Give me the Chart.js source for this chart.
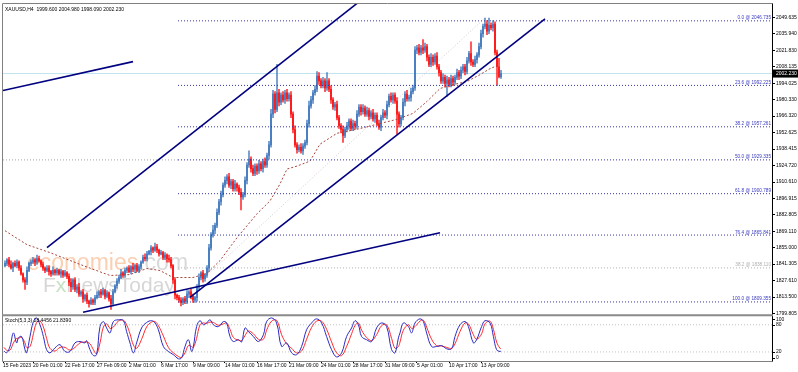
<!DOCTYPE html>
<html>
<head>
<meta charset="utf-8">
<script src="https://cdn.jsdelivr.net/npm/chart.js@4.4.1/dist/chart.umd.min.js"></script>
<style>
html, body { margin: 0; padding: 0; background: #fff; }
#wrap { width: 798px; height: 372px; }
</style>
</head>
<body>
<div id="wrap"><canvas id="xau" width="798" height="372"></canvas></div>
<script>
// XAUUSD H4 closes, one per bar (bar 0 = 15 Feb 2023)
const closes = [
	1842,1845,1841,1838,1842,1840,1843,1838,1833,1828,
	1826,1836,1842,1843,1845,1843,1846,1844,1841,1838,
	1836,1838,1835,1833,1836,1834,1836,1833,1835,1832,
	1834,1831,1826,1822,1828,1820,1822,1816,1818,1812,
	1815,1810,1808,1811,1809,1813,1815,1818,1816,1819,
	1814,1817,1812,1808,1818,1823,1827,1830,1834,1832,
	1836,1838,1835,1839,1837,1840,1836,1839,1843,1847,
	1846,1850,1852,1855,1853,1856,1853,1850,1851,1847,
	1849,1846,1845,1840,1828,1815,1813,1811,1809,1812,
	1810,1816,1818,1814,1811,1813,1822,1830,1834,1829,
	1832,1838,1855,1866,1870,1874,1885,1894,1900,1908,
	1912,1915,1908,1911,1905,1909,1906,1902,1898,1900,
	1912,1925,1930,1922,1918,1924,1920,1926,1922,1928,
	1925,1933,1942,1968,1985,1972,1986,1978,1984,1980,
	1986,1981,1984,1968,1955,1942,1938,1940,1937,1941,
	1944,1960,1975,1980,1986,1989,2000,1996,1992,1996,
	1990,1996,1989,1980,1974,1976,1965,1958,1955,1950,
	1955,1958,1962,1956,1960,1958,1968,1974,1970,1973,
	1968,1971,1966,1969,1964,1967,1960,1957,1965,1969,
	1967,1976,1983,1980,1984,1979,1968,1960,1965,1978,
	1985,1981,1982,1987,1990,2022,2024,2020,2024,2022,
	2025,2016,2010,2016,2012,2017,2008,2003,1996,1999,
	1994,1997,1993,1998,1995,1999,2003,2000,2005,2008,
	2004,2013,2019,2012,2010,2014,2018,2025,2036,2042,
	2044,2038,2043,2041,2044,2020,2008,1999.6,2002.23
];
const firstOpen = 1840;

// wick lengths above / below the body, in price units
const upWick = [
	2,1,2,3,1,2,2,1,2,1, 2,3,1,2,2,1,3,2,1,2, 1,2,2,1,3,1,2,1,2,1,
	2,1,2,3,1,2,2,3,1,2, 1,2,1,2,1,2,3,1,2,2, 1,2,1,3,2,1,2,2,3,1,
	2,1,2,1,3,1,2,2,1,2, 3,2,1,2,1,3,2,1,2,1, 2,1,3,2,1,2,1,2,2,1,
	2,3,1,2,2,1,2,3,1,2, 1,2,3,2,4,2,3,2,3,2, 3,2,3,2,2,3,1,2,3,2,
	3,2,7,2,3,2,2,3,2,2, 3,2,3,4,3,2,24,3,2,3, 2,3,2,3,2,3,2,2,3,2,
	2,3,4,3,2,3,4,3,2,3, 2,7,2,3,2,2,3,2,2,3, 2,3,2,2,3,2,3,2,2,3,
	2,3,2,2,3,2,2,3,2,3, 2,3,2,3,2,2,3,2,2,3, 2,3,2,3,2,3,2,3,2,7,
	3,2,2,3,2,2,3,2,2,3, 2,3,2,3,2,2,3,2,3,2, 2,3,2,10,2,3,2,3,3,2,
	5,3,6,2,3,2,2,7,2.75
];
const downWick = [
	1,2,2,1,3,1,2,2,1,2, 6,2,1,2,1,3,2,1,2,2, 2,1,3,2,1,2,2,1,3,2,
	1,2,3,4,2,2,3,2,2,3, 2,2,3,1,2,2,1,2,3,1, 2,1,2,5,2,1,2,2,1,2,
	2,2,1,2,2,3,1,2,2,1, 2,2,1,3,2,1,2,2,1,2, 2,3,2,2,3,3,2,2,3,2,
	2,2,3,2,2,2,3,2,2,3, 2,2,3,2,2,3,2,2,3,2, 2,3,2,3,2,2,3,2,11,2,
	2,3,2,3,2,2,3,2,2,3, 2,2,3,2,3,3,2,3,2,2, 3,2,2,3,3,2,3,2,2,3,
	2,2,3,2,3,2,2,3,2,2, 3,2,2,3,2,3,2,2,3,6, 2,2,3,2,2,3,2,2,3,2,
	2,2,3,2,2,3,2,2,3,2, 2,3,2,2,3,2,17,3,2,2, 3,2,2,3,2,2,3,2,2,3,
	2,3,2,2,3,2,2,3,2,2, 3,11,2,2,3,2,2,3,2,2, 3,2,2,3,2,2,3,2,2,3,
	2,3,2,2,3,2,16,1,1.51
];

// moving average, [bar, price]
const maPoints = [
	[0,1869.5],[11,1857.7],[22.5,1851.0],[39,1840.1],[52.5,1831.7],[62.5,1832.5],
	[71,1837.6],[77.5,1835.9],[84,1830.0],[94,1830.0],[101,1833.4],[107.5,1844.3],
	[116,1863.6],[126,1883.8],[132.5,1894.7],[137.5,1909.0],[141,1921.6],[146,1924.1],
	[152.5,1928.3],[157.5,1942.6],[166,1951.8],[176,1955.2],[186,1959.4],[196,1963.6],
	[204,1968.6],[211,1978.7],[217.5,1989.6],[224,1992.9],[231,1995.5],[237.5,2001.3],
	[242.5,2006.4],[247.5,2009.7]
];

// drawn trend lines, [bar, price] end points
const shortLine = [[-1,1987.9],[64,2012.3]];
const upperChannel = [[21,1855.2],[180,2066.8]];
const lowerChannel = [[92.5,1813.2],[270,2048.4]];
const baseLine = [[39,1800.6],[217.5,1867.8]];
const faintTrend = [[94,1820.8],[240,2049.2]];
const leftLevel = [[-1,1929.3],[86.5,1929.3]];

// fibonacci retracement
const fibLevels = [0.0, 23.6, 38.2, 50.0, 61.8, 76.4, 100.0];
const fibPrices = [2046.735, 1992.225, 1957.261, 1929.335, 1900.789, 1865.841, 1809.355];
const oldFibLevel = 38.2;
const oldFibPrice = 1838.110;
const fibStartBar = 86.5;

const bidPrice = 2002.23;
const title = 'XAUUSD,H4  1999.600 2004.980 1998.090 2002.230';

// stochastic (5,3,3), [bar, value]
const stochMain = [
	[-0.5,22],[0.8,18],[2.5,32],[4.2,62],[5.8,40],[6.7,51],[8.3,54],[10,25],[10.8,18],[12.5,54],
	[14.2,87],[15.8,95],[17.5,80],[19.2,54],[20.8,25],[22.5,18],[25,29],[27.5,36],[30,21],[32.5,21],
	[35,40],[37.5,43],[40,40],[40.8,45],[42.5,25],[44.2,12],[45.8,14],[47.5,76],[49.2,87],[50.8,73],
	[52.5,62],[54.2,87],[56.7,91],[59.2,89],[60.8,65],[62.5,40],[64.2,18],[65.8,40],[68.3,73],[70.8,85],
	[73.3,89],[75,84],[76.7,69],[79.2,32],[81.7,21],[84.2,14],[86.7,5],[88.3,7],[90,32],[91.7,47],
	[93.3,21],[94.2,32],[95.8,76],[97.5,89],[99.2,80],[100.8,84],[102.5,91],[104.2,80],[106.7,76],[109.2,87],
	[110.8,84],[112.5,54],[114.2,43],[116.7,47],[118.3,42],[120,73],[121.7,65],[124.2,54],[126.7,43],[129.2,58],
	[130.8,87],[133.3,95],[135.8,84],[138.3,32],[140.8,40],[143.3,18],[145.8,14],[148.3,32],[150.8,69],[153.3,84],
	[155.8,93],[158.3,84],[160.8,54],[163.3,25],[165.8,9],[168.3,18],[170.8,54],[173.3,73],[175,89],[176.7,80],
	[178.3,54],[180.8,47],[183.3,43],[185.8,73],[188.3,84],[190.8,76],[193.3,25],[195,18],[196.7,51],[197.5,62],
	[199.2,84],[201.7,76],[203.3,62],[205,84],[207.5,93],[209.2,87],[210.8,62],[213.3,32],[215.8,32],[218.3,34],
	[220.8,27],[223.3,27],[225,54],[227.5,80],[230,87],[231.7,76],[234.2,40],[235.8,47],[238.3,76],[240,89],
	[242.5,84],[244.2,54],[245.8,25],[247.5,21],[248,22]
];
const stochSignal = [
	[-0.5,30],[0.8,24],[2.5,24],[4.2,40],[5.8,50],[6.7,50],[8.3,52],[10,40],[10.8,30],[12.5,32],
	[14.2,60],[15.8,85],[17.5,88],[19.2,75],[20.8,50],[22.5,28],[25,22],[27.5,30],[30,30],[32.5,24],
	[35,30],[37.5,40],[40,42],[40.8,42],[42.5,38],[44.2,25],[45.8,16],[47.5,40],[49.2,75],[50.8,82],
	[52.5,72],[54.2,75],[56.7,88],[59.2,90],[60.8,80],[62.5,60],[64.2,35],[65.8,28],[68.3,48],[70.8,75],
	[73.3,86],[75,87],[76.7,78],[79.2,55],[81.7,30],[84.2,18],[86.7,10],[88.3,8],[90,18],[91.7,34],
	[93.3,32],[94.2,30],[95.8,50],[97.5,80],[99.2,84],[100.8,83],[102.5,86],[104.2,85],[106.7,79],[109.2,82],
	[110.8,84],[112.5,70],[114.2,52],[116.7,46],[118.3,45],[120,56],[121.7,66],[124.2,60],[126.7,48],[129.2,48],
	[130.8,68],[133.3,88],[135.8,90],[138.3,58],[140.8,38],[143.3,28],[145.8,18],[148.3,22],[150.8,48],[153.3,74],
	[155.8,88],[158.3,88],[160.8,70],[163.3,42],[165.8,18],[168.3,12],[170.8,32],[173.3,60],[175,78],[176.7,84],
	[178.3,68],[180.8,52],[183.3,45],[185.8,58],[188.3,78],[190.8,80],[193.3,50],[195,28],[196.7,32],[197.5,42],
	[199.2,68],[201.7,80],[203.3,72],[205,76],[207.5,88],[209.2,90],[210.8,75],[213.3,48],[215.8,34],[218.3,33],
	[220.8,30],[223.3,28],[225,38],[227.5,65],[230,84],[231.7,82],[234.2,58],[235.8,48],[238.3,60],[240,82],
	[242.5,88],[244.2,70],[245.8,42],[247.5,28],[248,28]
];
const stochLevels = [80, 20];
const stochTicks = [100, 80, 20, 0];
const stochTitle = 'Stoch(5,3,3) 28.4456 21.8390';

// axis labels
const priceTicks = [2049.635, 2035.940, 2021.830, 2008.135, 1994.025, 1980.330, 1966.320,
	1952.625, 1938.415, 1924.720, 1910.610, 1896.915, 1882.805, 1869.110, 1855.000,
	1841.305, 1827.610, 1813.500, 1799.805];
const timeTickBars = [-1, 14, 30, 46, 62, 78, 94, 110, 126, 142, 158, 174, 190, 206, 222, 238];
const timeLabels = ['15 Feb 2023', '20 Feb 01:00', '22 Feb 17:00', '27 Feb 09:00', '2 Mar 01:00',
	'6 Mar 17:00', '9 Mar 09:00', '14 Mar 01:00', '16 Mar 17:00', '21 Mar 09:00', '24 Mar 01:00',
	'28 Mar 17:00', '31 Mar 09:00', '5 Apr 01:00', '10 Apr 17:00', '13 Apr 09:00'];

const FONT = '"Liberation Sans", Arial, sans-serif';
const X_MIN = -1, X_MAX = 383.5;

const opens = closes.map((c, i) => i === 0 ? firstOpen : closes[i - 1]);
const candleColors = closes.map((c, i) => c >= opens[i] ? '#4a7fc1' : '#ff1c1c');

function seg(points, color, width, dash, order, axis) {
	return {
		type: 'line',
		data: points.map(p => ({x: p[0], y: p[1]})),
		borderColor: color,
		borderWidth: width,
		borderDash: dash || [],
		pointRadius: 0,
		fill: false,
		tension: 0,
		yAxisID: axis || 'y',
		order: order
	};
}

const datasets = [
	// candles: wick then body
	{
		type: 'bar',
		data: closes.map((c, i) => ({x: i, y: [Math.min(opens[i], c) - downWick[i], Math.max(opens[i], c) + upWick[i]]})),
		backgroundColor: candleColors,
		barThickness: 0.8,
		grouped: false,
		yAxisID: 'y',
		order: 6
	},
	{
		type: 'bar',
		data: closes.map((c, i) => ({x: i, y: [opens[i], c]})),
		backgroundColor: candleColors,
		barThickness: 1.3,
		minBarLength: 1,
		grouped: false,
		yAxisID: 'y',
		order: 5
	},
	seg([[X_MIN, bidPrice], [X_MAX, bidPrice]], '#bfe3ee', 1, [], 8),
	seg(leftLevel, '#a8a8a8', 1, [1, 2], 7),
	seg([[fibStartBar, oldFibPrice], [X_MAX, oldFibPrice]], '#b4b4b4', 1, [1, 2], 7),
	seg(faintTrend, 'rgba(205,185,195,0.8)', 1, [1, 2], 7),
	seg(maPoints, '#a8443c', 1, [2, 2], 4),
	seg(shortLine, '#000080', 1.6, [], 2),
	seg(upperChannel, '#000080', 1.6, [], 2),
	seg(lowerChannel, '#000080', 1.6, [], 2),
	seg(baseLine, '#000080', 1.6, [], 2),
	Object.assign(seg(stochSignal, '#ff2a2a', 1, [], 1, 'stoch'), {tension: 0.4}),
	Object.assign(seg(stochMain, '#2b2bc4', 1, [], 0, 'stoch'), {tension: 0.4})
];
stochLevels.forEach(v => {
	datasets.push(seg([[X_MIN, v], [X_MAX, v]], '#c4c4c4', 1, [1, 2], 3, 'stoch'));
});
fibPrices.forEach(p => {
	datasets.push(seg([[fibStartBar, p], [X_MAX, p]], '#3535a8', 1, [1, 2], 3));
});

const decor = {
	id: 'decor',
	beforeDatasetsDraw(chart) {
		const ctx = chart.ctx;
		ctx.save();
		ctx.textBaseline = 'alphabetic';
		ctx.font = '23px ' + FONT;
		ctx.fillStyle = 'rgba(247,160,100,0.5)';
		ctx.fillText('economies', 27, 270);
		const w = ctx.measureText('economies').width;
		ctx.fillStyle = 'rgba(170,170,170,0.45)';
		ctx.fillText('.com', 27 + w, 270);
		ctx.font = '21px ' + FONT;
		ctx.fillStyle = 'rgba(165,165,165,0.45)';
		ctx.fillText('F', 43, 292);
		const fw = ctx.measureText('F').width;
		ctx.fillStyle = 'rgba(120,190,120,0.45)';
		ctx.fillText('x', 43 + fw, 292);
		const xw = ctx.measureText('x').width;
		ctx.fillStyle = 'rgba(165,165,165,0.45)';
		ctx.fillText('NewsToday', 43 + fw + xw, 292);
		ctx.restore();
	},
	afterDraw(chart) {
		const ctx = chart.ctx, a = chart.chartArea;
		const y = chart.scales.y, st = chart.scales.stoch;
		ctx.save();
		// frames
		ctx.strokeStyle = '#808080';
		ctx.lineWidth = 1;
		ctx.beginPath();
		ctx.moveTo(a.left - 0.5, a.top - 0.5);
		ctx.lineTo(a.right + 0.5, a.top - 0.5);
		ctx.moveTo(a.left - 0.5, a.top - 0.5);
		ctx.lineTo(a.left - 0.5, a.bottom + 0.5);
		ctx.moveTo(a.left - 0.5, a.bottom + 0.5);
		ctx.lineTo(a.right + 0.5, a.bottom + 0.5);
		ctx.stroke();
		ctx.strokeStyle = '#000';
		ctx.beginPath();
		ctx.moveTo(a.right + 0.5, a.top - 0.5);
		ctx.lineTo(a.right + 0.5, a.bottom + 0.5);
		ctx.stroke();
		ctx.fillStyle = '#8a8a8a';
		ctx.fillRect(a.left - 1, y.bottom - 1, a.right - a.left + 2, 2);

		// titles
		ctx.fillStyle = '#000';
		ctx.font = '5px ' + FONT;
		ctx.textBaseline = 'top';
		ctx.textAlign = 'left';
		ctx.fillText(title, a.left + 2, a.top + 3);
		ctx.fillText(stochTitle, a.left + 2, st.top + 3);

		// fibo labels
		ctx.font = '4.7px ' + FONT;
		ctx.textAlign = 'right';
		ctx.textBaseline = 'bottom';
		ctx.fillStyle = '#3a3ac0';
		fibPrices.forEach((p, i) => {
			ctx.fillText(fibLevels[i].toFixed(1) + ' @ ' + p.toFixed(3), a.right - 1, y.getPixelForValue(p) - 0.5);
		});
		ctx.fillStyle = '#b0b0b0';
		ctx.fillText(oldFibLevel.toFixed(1) + ' @ ' + oldFibPrice.toFixed(3), a.right - 1, y.getPixelForValue(oldFibPrice) - 0.5);

		// bid box
		const by = y.getPixelForValue(bidPrice);
		ctx.fillStyle = '#000';
		ctx.fillRect(a.right + 1, by - 4, chart.width - a.right - 1, 8);
		ctx.fillStyle = '#fff';
		ctx.font = '5px ' + FONT;
		ctx.textAlign = 'left';
		ctx.textBaseline = 'middle';
		ctx.fillText(bidPrice.toFixed(3), a.right + 4, by + 0.5);

		// stochastic axis labels
		ctx.fillStyle = '#000';
		ctx.strokeStyle = '#000';
		stochTicks.forEach(v => {
			let py = st.getPixelForValue(v);
			if (v === 100) py = st.top + 4;
			if (v === 0) py = st.bottom - 3;
			ctx.fillText(String(v), a.right + 4, py);
			ctx.beginPath();
			ctx.moveTo(a.right, Math.round(py) + 0.5);
			ctx.lineTo(a.right + 3, Math.round(py) + 0.5);
			ctx.stroke();
		});
		ctx.restore();
	}
};

new Chart(document.getElementById('xau'), {
	type: 'bar',
	data: {datasets: datasets},
	plugins: [decor],
	options: {
		responsive: false,
		animation: false,
		devicePixelRatio: 1,
		events: [],
		layout: {padding: {left: 3, top: 2, right: 0, bottom: 0}},
		plugins: {
			legend: {display: false},
			tooltip: {enabled: false},
			title: {display: false}
		},
		scales: {
			x: {
				type: 'linear',
				position: 'bottom',
				offset: false,
				min: X_MIN,
				max: X_MAX,
				grid: {drawOnChartArea: false, drawTicks: true, tickLength: 2, color: '#000', offset: false},
				border: {display: false},
				ticks: {
					align: 'start',
					maxRotation: 0,
					autoSkip: false,
					padding: 0,
					color: '#000',
					font: {family: FONT, size: 5},
					callback: (v, idx) => timeLabels[idx]
				},
				afterBuildTicks: s => { s.ticks = timeTickBars.map(v => ({value: v})); },
				afterFit: s => { s.height = 11; }
			},
			y: {
				type: 'linear',
				position: 'right',
				stack: 'pane',
				stackWeight: 313,
				min: 1798.12,
				max: 2060.97,
				grid: {drawOnChartArea: false, drawTicks: true, tickLength: 3, color: '#000'},
				border: {display: false},
				ticks: {
					autoSkip: false,
					padding: 1,
					color: '#000',
					font: {family: FONT, size: 5},
					callback: v => v.toFixed(3)
				},
				afterBuildTicks: s => { s.ticks = priceTicks.map(v => ({value: v})); },
				afterFit: s => { s.width = 26; }
			},
			stoch: {
				type: 'linear',
				position: 'right',
				stack: 'pane',
				stackWeight: 46,
				min: 0,
				max: 101,
				grid: {display: false},
				border: {display: false},
				ticks: {display: false},
				afterFit: s => { s.width = 26; }
			}
		}
	}
});
</script>
</body>
</html>
